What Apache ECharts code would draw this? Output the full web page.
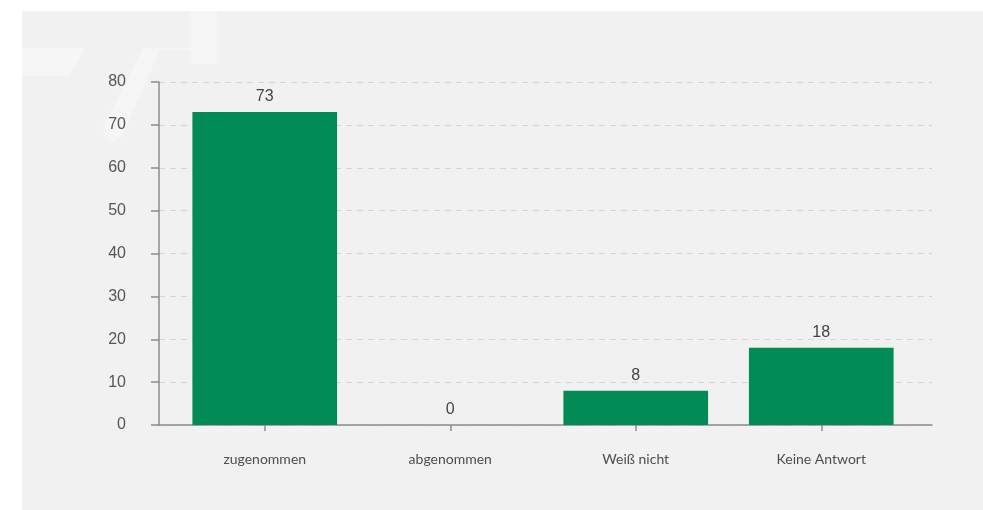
<!DOCTYPE html>
<html>
<head>
<meta charset="utf-8">
<script src="https://cdn.jsdelivr.net/npm/echarts@6/dist/echarts.min.js"></script>
<style>
  html, body { margin: 0; padding: 0; background: #ffffff; }
  #chart { width: 983px; height: 510px; }
</style>
</head>
<body>
<div id="chart"></div>
<script>
// Survey answers and their shares
const categories = ['zugenommen', 'abgenommen', 'Weiß nicht', 'Keine Antwort'];
const values = [73, 0, 8, 18];
const yTicks = { min: 0, max: 80, interval: 10 };

const chart = echarts.init(document.getElementById('chart'), null, { renderer: 'canvas' });

const axisGray = '#8c8c8c';
const textGray = '#555555';

chart.setOption({
  backgroundColor: '#ffffff',
  animation: false,
  graphic: [
    // grey card behind the chart
    { type: 'rect', z: -10, shape: { x: 22, y: 11, width: 961, height: 499 }, style: { fill: '#f1f1f1' }, silent: true },
    // faint logo shapes in the corner
    { type: 'polygon', z: -9, shape: { points: [[22, 48], [85, 48], [69, 76], [22, 76]] }, style: { fill: 'rgba(255,255,255,0.35)' }, silent: true },
    { type: 'polygon', z: -9, shape: { points: [[190, 11], [217, 11], [217, 64], [190, 64], [190, 50], [160, 50], [123, 134], [113, 142], [104, 136], [103, 128], [143, 48], [190, 48]] }, style: { fill: 'rgba(255,255,255,0.3)' }, silent: true }
  ],
  grid: [
    { left: 159, right: 51, top: 82, bottom: 85 },
    { left: 172, right: 69, top: 82, bottom: 85 }
  ],
  xAxis: [
    {
      gridIndex: 0, type: 'value', min: 0, max: 1,
      axisLine: { show: true, lineStyle: { color: axisGray, width: 1.5 } },
      axisTick: { show: false }, axisLabel: { show: false }, splitLine: { show: false }
    },
    {
      gridIndex: 1, type: 'category', data: categories,
      axisLine: { show: false },
      axisTick: { show: true, alignWithLabel: true, length: 6, lineStyle: { color: axisGray, width: 1.5 } },
      axisLabel: { margin: 27, color: '#4d4d4d', fontSize: 14, fontFamily: 'Lato, "Liberation Sans", sans-serif' }
    }
  ],
  yAxis: [
    {
      gridIndex: 0, type: 'value', min: yTicks.min, max: yTicks.max, interval: yTicks.interval,
      axisLine: { show: true, lineStyle: { color: axisGray, width: 1.5 } },
      axisTick: { show: true, length: 8, lineStyle: { color: axisGray, width: 1.5 } },
      axisLabel: { margin: 33, color: textGray, fontSize: 16, fontFamily: '"Liberation Sans", Arial, sans-serif' },
      splitLine: { show: true, lineStyle: { color: '#d6d6d6', type: [6, 5], width: 1 } }
    },
    {
      gridIndex: 1, type: 'value', min: yTicks.min, max: yTicks.max, interval: yTicks.interval,
      show: false, splitLine: { show: false }
    }
  ],
  series: [
    {
      type: 'bar',
      xAxisIndex: 1, yAxisIndex: 1,
      data: values,
      barWidth: '78%',
      itemStyle: { color: '#028a57' },
      label: {
        show: true, position: 'top', distance: 7,
        color: '#444444', fontSize: 16,
        fontFamily: '"Liberation Sans", Arial, sans-serif'
      }
    }
  ]
});
</script>
</body>
</html>
